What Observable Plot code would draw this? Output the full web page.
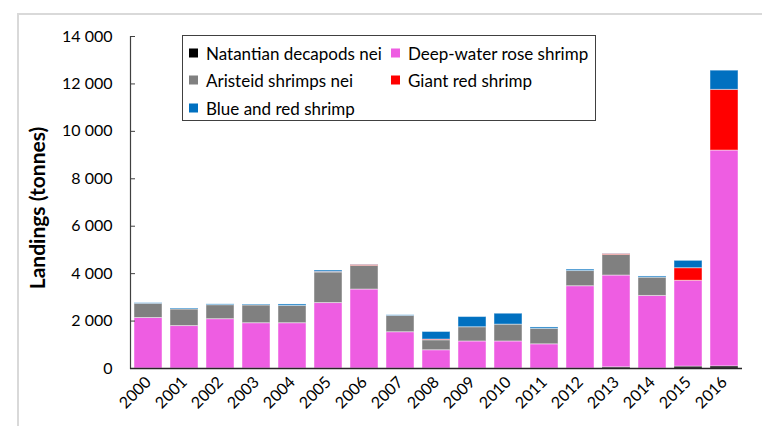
<!DOCTYPE html>
<html>
<head>
<meta charset="utf-8">
<script src="https://cdn.jsdelivr.net/npm/d3@7"></script>
<script src="https://cdn.jsdelivr.net/npm/@observablehq/plot@0.6"></script>
<style>
  html, body { margin: 0; padding: 0; background: #fff; }
  body { width: 762px; height: 426px; position: relative; overflow: hidden; font-family: Lato, "Open Sans", sans-serif; }
  #frame { position: absolute; left: 17px; top: 13px; width: 800px; height: 500px; border: 2px solid #d9d9d9; box-sizing: border-box; }
  #chart { position: absolute; left: 0; top: 0; }
  #legend { position: absolute; left: 182px; top: 35px; height: 86px; box-sizing: border-box; border: 1px solid #404040; background: #fff; font-size: 17px; color: #000; }
  #legend .item { position: absolute; white-space: nowrap; display: flex; align-items: center; transform: translateY(-50%); }
  #legend .sw { width: 9px; height: 9px; margin-right: 8px; }
  #title { position: absolute; left: 36px; top: 208px; transform: translate(-50%, -50%) rotate(-90deg); font-weight: bold; font-size: 21px; white-space: nowrap; }
</style>
</head>
<body>
<div id="frame"></div>
<div id="chart"></div>
<div id="title">Landings (tonnes)</div>
<div id="legend"></div>
<script>
// Annual landings by species group, 2000–2016 (tonnes)
const years = ["2000","2001","2002","2003","2004","2005","2006","2007","2008","2009","2010","2011","2012","2013","2014","2015","2016"];
const seriesNames = ["Natantian decapods nei","Deep-water rose shrimp","Aristeid shrimps nei","Giant red shrimp","Blue and red shrimp"];
const seriesColors = ["#000000","#ee5de2","#808080","#ff0000","#0070c0"];

const natantian = [0,0,0,0,0,0,0,0,0,0,0,0,0,50,0,80,90];
const deepWater = [2130,1790,2080,1910,1910,2760,3330,1530,770,1140,1140,1020,3470,3870,3060,3620,9100];
const aristeid  = [600,700,590,750,730,1290,1000,690,420,600,710,650,640,870,770,0,0];
const giantRed  = [0,0,0,0,0,20,40,0,30,0,0,0,0,40,0,530,2560];
const blueRed   = [25,40,35,35,60,60,10,25,320,430,460,60,60,10,50,310,810];

const yTicks = [0,2000,4000,6000,8000,10000,12000,14000];

const seriesValues = [natantian, deepWater, aristeid, giantRed, blueRed];
const rows = [];
seriesNames.forEach((name, i) => {
  years.forEach((yr, j) => rows.push({year: yr, species: name, value: seriesValues[i][j]}));
});

const fmt = d3.formatLocale({decimal: ".", thousands: " ", grouping: [3], currency: ["", ""]}).format(",d");

const chart = Plot.plot({
  width: 762,
  height: 426,
  marginLeft: 130,
  marginRight: 20,
  marginTop: 36,
  marginBottom: 58,
  style: {fontFamily: "Lato, 'Open Sans', sans-serif", fontSize: "16px", color: "#000", background: "transparent", overflow: "visible"},
  x: {domain: years, paddingInner: 0.22, paddingOuter: 0.11},
  y: {domain: [0, 14000]},
  color: {domain: seriesNames, range: seriesColors},
  marks: [
    Plot.barY(rows, Plot.stackY({order: seriesNames}, {
      x: "year", y: "value", fill: "species",
      stroke: "white", strokeOpacity: 0.45, strokeWidth: 1
    })),
    Plot.axisY({ticks: yTicks, tickSize: -5, tickPadding: 23, tickFormat: fmt, stroke: "#404040", label: null, fontSize: 16}),
    Plot.axisX({tickSize: 0, tickRotate: -45, tickPadding: 11, label: null, fontSize: 16}),
    Plot.frame({anchor: "left", stroke: "#404040", strokeWidth: 1.2}),
    Plot.ruleY([0], {stroke: "#262626", strokeWidth: 1.5})
  ]
});
document.getElementById("chart").appendChild(chart);

// Legend box: two columns, three rows
const legend = document.getElementById("legend");
const colX = [6, 208];
const rowY = [17, 44, 72];
const layout = [[0,0],[1,0],[0,1],[1,1],[0,2]];
seriesNames.forEach((name, i) => {
  const [c, r] = layout[i];
  const it = document.createElement("div");
  it.className = "item";
  it.style.left = colX[c] + "px";
  it.style.top = rowY[r] + "px";
  const sw = document.createElement("span");
  sw.className = "sw";
  sw.style.background = seriesColors[i];
  const tx = document.createElement("span");
  tx.textContent = name;
  it.appendChild(sw);
  it.appendChild(tx);
  legend.appendChild(it);
});
legend.style.width = "414px";
</script>
</body>
</html>
